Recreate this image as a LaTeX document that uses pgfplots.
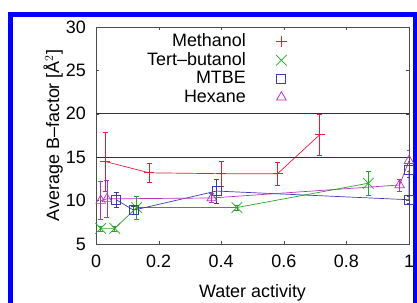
\documentclass[border=0pt]{standalone}
\usepackage{pgfplots}
\pgfplotsset{compat=1.18}
\usepackage{fontspec}
\setmainfont{Liberation Sans}
\definecolor{cred}{RGB}{230,30,60}
\definecolor{cgreen}{RGB}{40,165,40}
\definecolor{cblue}{RGB}{60,60,175}
\definecolor{cmag}{RGB}{180,50,190}
\begin{document}
\fontsize{18}{21}\selectfont
\begin{tikzpicture}[x=1bp,y=1bp]
\useasboundingbox (0,0) rectangle (417,303);
\draw[blue, line width=5bp] (10.5,-20) rectangle (415.5,288.5);
\begin{axis}[
  at={(96bp,59bp)}, anchor=south west,
  width=313bp, height=217bp, scale only axis,
  xmin=0, xmax=1, ymin=5, ymax=30,
  xtick={0,0.2,...,1}, ytick={5,10,...,30},
  xticklabels={0,0.2,0.4,0.6,0.8,1},
  /pgf/number format/assume math mode=true,
  tick align=inside, tick pos=both,
  major tick length=3bp,
  axis line style={gray!60!black, line width=0.8pt},
  tick style={gray!60!black},
  xlabel={Water activity},
  ylabel={Average B--factor [Å$^2$]},
  every axis label/.append style={font=\fontsize{18}{21}\selectfont},
  ticklabel style={font=\fontsize{18}{21}\selectfont},
  xticklabel style={yshift=-5bp},
  yticklabel style={xshift=-4bp},
  xlabel style={yshift=-4bp},
  ylabel style={yshift=-9bp},
  legend style={at={(0.62,0.985)}, anchor=north east, draw=none, fill=none,
    font=\fontsize{18}{21}\selectfont, row sep=0bp,
    nodes={inner sep=1.5bp, text height=13bp, text depth=2.5bp}},
  legend plot pos=right,
  legend cell align=right,
  error bars/error bar style={line width=0.7pt},
]
% Methanol
\addplot[cred, mark=+, mark size=5bp, line width=0.7pt, mark options={draw=cred}, forget plot,
  error bars/.cd, y dir=both, y explicit, error mark options={rotate=90, mark size=2.5bp, cred}]
  table[x=x, y=y, y error=e] {
x y e
0.03 14.5 3.4
0.17 13.2 1.1
0.40 13.1 1.4
0.58 13.1 1.3
0.715 17.6 2.4
};
% Tert-butanol
\addplot[cgreen, mark=x, mark size=7.5bp, line width=0.7pt, forget plot,
  error bars/.cd, y dir=both, y explicit, error mark options={rotate=90, mark size=2.5bp, cgreen}]
  table[x=x, y=y, y error=e] {
x y e
0.015 6.8 0.3
0.06 6.8 0.3
0.13 9.2 1.3
0.45 9.2 0.3
0.87 12.0 1.4
};
% MTBE
\addplot[cblue, mark=square, mark size=4.5bp, line width=0.7pt, forget plot,
  error bars/.cd, y dir=both, y explicit, error mark options={rotate=90, mark size=2.5bp, cblue}]
  table[x=x, y=y, y error=e] {
x y e
0.065 10.1 0.9
0.12 8.9 0.5
0.385 11.1 1.4
1.0 10.1 0.4
1.0 13.5 0.8
};
% Hexane
\addplot[cmag, mark=triangle, mark size=5.5bp, line width=0.7pt, forget plot,
  error bars/.cd, y dir=both, y explicit, error mark options={rotate=90, mark size=2.5bp, cmag}]
  table[x=x, y=y, y error=e] {
x y e
0.015 10.0 2.2
0.035 10.2 2.1
0.37 10.3 0.5
0.97 11.8 0.7
1.0 14.6 1.2
};
\draw[gray!40!black, line width=0.8pt] (axis cs:0,20) -- (axis cs:1,20);
\draw[gray!40!black, line width=0.8pt] (axis cs:0,15) -- (axis cs:1,15);

\addlegendimage{legend image code/.code={\path[draw=none] (0,0) -- (1.2cm,0);
  {\color{cred}\pgfsetlinewidth{0.8pt}\pgftransformshift{\pgfpoint{1.2cm}{0cm}}%
   \pgfsetplotmarksize{5.5bp}\pgfuseplotmark{+}}}}
\addlegendentry{Methanol}
\addlegendimage{legend image code/.code={\path[draw=none] (0,0) -- (1.2cm,0);
  \draw[cgreen, line width=0.8pt, mark size=7.5bp, mark=x, only marks] plot coordinates {(1.2cm,0cm)};}}
\addlegendentry{Tert--butanol}
\addlegendimage{legend image code/.code={\path[draw=none] (0,0) -- (1.2cm,0);
  \draw[cblue, line width=0.8pt, mark size=4.5bp, mark=square, only marks] plot coordinates {(1.2cm,0cm)};}}
\addlegendentry{MTBE}
\addlegendimage{legend image code/.code={\path[draw=none] (0,0) -- (1.2cm,0);
  \draw[cmag, line width=0.8pt, mark size=5.5bp, mark=triangle, only marks] plot coordinates {(1.2cm,0cm)};}}
\addlegendentry{Hexane}
\end{axis}
\end{tikzpicture}
\end{document}
